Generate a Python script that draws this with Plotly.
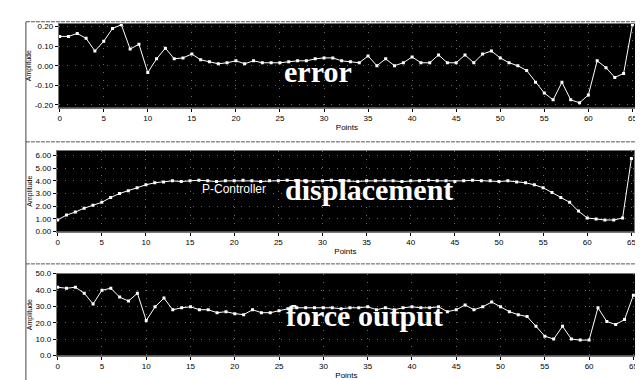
import plotly.graph_objects as go

W, H = 643, 380

points = list(range(66))

error_vals = [0.150, 0.150, 0.165, 0.140, 0.075, 0.125, 0.190, 0.210, 0.085, 0.110,
              -0.035, 0.035, 0.090, 0.035, 0.040, 0.060, 0.030, 0.020, 0.010, 0.015,
              0.025, 0.010, 0.025, 0.015, 0.015, 0.015, 0.020, 0.025, 0.025, 0.035,
              0.040, 0.040, 0.025, 0.020, 0.015, 0.050, 0.000, 0.035, 0.000, 0.015,
              0.045, 0.015, 0.015, 0.055, 0.015, 0.015, 0.055, 0.015, 0.060, 0.075,
              0.040, 0.015, 0.000, -0.025, -0.085, -0.140, -0.175, -0.085, -0.175, -0.190,
              -0.150, 0.025, -0.010, -0.060, -0.040, 0.210]

disp_vals = [0.92, 1.31, 1.54, 1.85, 2.08, 2.31, 2.69, 3.00, 3.23, 3.46,
             3.69, 3.85, 3.92, 4.00, 3.95, 4.00, 4.05, 4.00, 3.95, 4.00,
             4.00, 4.05, 4.00, 3.95, 4.00, 4.00, 4.05, 4.00, 4.00, 3.95,
             4.00, 4.05, 4.00, 4.00, 3.95, 4.00, 4.00, 4.05, 4.00, 3.95,
             4.00, 4.00, 4.05, 4.00, 4.00, 3.95, 4.00, 4.05, 4.00, 4.00,
             3.95, 4.00, 3.92, 3.85, 3.69, 3.46, 3.08, 2.69, 2.31, 1.62,
             1.08, 1.00, 0.92, 0.92, 1.08, 5.77]

force_vals = [41.7, 41.1, 41.7, 38.1, 31.5, 39.9, 41.1, 35.7, 33.3, 38.1,
              21.4, 29.8, 35.1, 28.0, 29.2, 29.8, 28.0, 28.0, 26.2, 26.8,
              25.6, 25.0, 28.0, 26.2, 26.2, 27.4, 28.6, 29.2, 29.2, 29.2,
              29.2, 29.2, 28.6, 29.2, 29.2, 29.8, 28.0, 29.2, 28.0, 29.2,
              29.8, 29.2, 29.2, 29.8, 26.8, 28.0, 30.9, 28.0, 29.8, 32.7,
              29.8, 26.8, 25.0, 23.8, 17.9, 11.9, 10.1, 17.9, 10.1, 9.5,
              9.5, 29.2, 20.8, 19.0, 22.0, 36.9]

x_ticks = list(range(0, 70, 5))
err_ticks = [-0.2, -0.1, 0.0, 0.1, 0.2]
err_labels = ["-0.20", "-0.10", "0.00", "0.10", "0.20"]
disp_ticks = [0, 1, 2, 3, 4, 5, 6]
disp_labels = ["0.00", "1.00", "2.00", "3.00", "4.00", "5.00", "6.00"]
force_ticks = [0, 10, 20, 30, 40, 50]
force_labels = ["0.0", "10.0", "20.0", "30.0", "40.0", "50.0"]

x_title = "Points"
y_titles = ["Amplitude", "Amplitude", "Amplitude"]
overlays = ["error", "displacement", "force output"]
sub_label = "P-Controller"

def px(x):
    return x / W

def py(y):
    return 1 - y / H

fig = go.Figure()
series = [error_vals, disp_vals, force_vals]
for i, vals in enumerate(series):
    sfx = "" if i == 0 else str(i + 1)
    fig.add_trace(go.Scatter(
        x=points, y=vals, mode="lines+markers",
        line=dict(color="white", width=1),
        marker=dict(color="white", size=3, symbol="square"),
        xaxis="x" + sfx, yaxis="y" + sfx, showlegend=False))

tickfont = dict(family="Liberation Sans", size=8, color="black")
boxes = [(50, 629, 12, 98), (48, 628, 142, 225), (48, 630, 268, 352)]
yranges = [[-0.215, 0.215], [0, 6.38], [0, 50]]
yt = [(err_ticks, err_labels), (disp_ticks, disp_labels), (force_ticks, force_labels)]

layout = dict(
    width=W, height=H, margin=dict(l=0, r=0, t=0, b=0),
    paper_bgcolor="white", plot_bgcolor="black", showlegend=False,
)
for i, (x0, x1, y0, y1) in enumerate(boxes):
    sfx = "" if i == 0 else str(i + 1)
    layout["xaxis" + sfx] = dict(
        domain=[px(x0), px(x1)], anchor="y" + sfx, range=[-0.1, 65.3],
        tickvals=x_ticks, ticks="outside", ticklen=3, tickcolor="black",
        tickfont=tickfont, showgrid=True, gridcolor="#6a6a6a", griddash="1px,7px",
        zeroline=False, showline=True, linecolor="#777", mirror=True,
        title=dict(text=x_title, font=dict(family="Liberation Sans", size=8, color="black"), standoff=2),
    )
    layout["yaxis" + sfx] = dict(
        domain=[py(y1), py(y0)], anchor="x" + sfx, range=yranges[i],
        tickvals=yt[i][0], ticktext=yt[i][1], ticks="outside", ticklen=3, tickcolor="black",
        tickfont=tickfont, showgrid=True, gridcolor="#6a6a6a", griddash="1px,7px",
        zeroline=False, showline=True, linecolor="#777", mirror=True,
        title=dict(text=y_titles[i], font=dict(family="Liberation Sans", size=7, color="black"), standoff=2),
    )
fig.update_layout(**layout)

serif = dict(family="Liberation Serif", size=30, color="white")
def note(text, x, y, font):
    fig.add_annotation(text=text, x=px(x), y=py(y), xref="paper", yref="paper",
                       xanchor="center", yanchor="middle", showarrow=False, font=font)

note("<b>" + overlays[0] + "</b>", 310, 61, serif)
note("<b>" + overlays[1] + "</b>", 362, 182, serif)
note(sub_label, 226, 181, dict(family="Liberation Sans Narrow, Liberation Sans", size=12, color="white"))
note("<b>" + overlays[2] + "</b>", 357, 311, serif)

frame = dict(color="#444", width=1)
for yy in (10, 133, 258):
    fig.add_shape(type="line", xref="paper", yref="paper", x0=px(17), x1=px(633), y0=py(yy), y1=py(yy),
                  line=dict(color="#555", width=1, dash="4px,1px"))
fig.add_shape(type="line", xref="paper", yref="paper", x0=px(17), x1=px(17), y0=py(10), y1=py(380), line=frame)
fig.add_shape(type="line", xref="paper", yref="paper", x0=px(633), x1=px(633), y0=py(10), y1=py(380), line=frame)

fig.write_html("out.html")
